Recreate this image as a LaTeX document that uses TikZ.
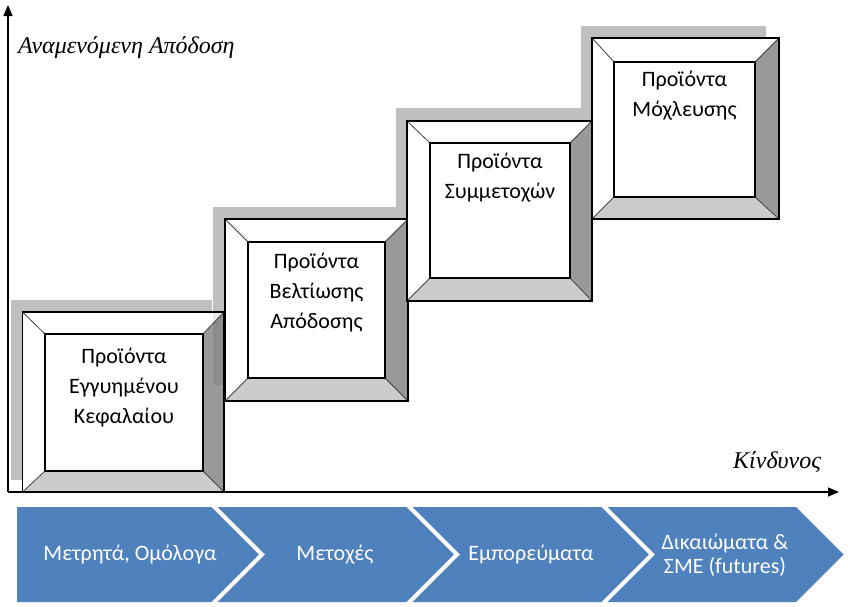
\documentclass[tikz,border=0pt]{standalone}
\usepackage{fontspec}
\setmainfont{Carlito}
\newfontfamily\tnr{Liberation Serif}
\usetikzlibrary{arrows.meta}
\definecolor{chblue}{HTML}{4F81BD}
\definecolor{shad}{HTML}{BFBFBF}
\definecolor{bvr}{HTML}{999999}
\definecolor{bvb}{HTML}{CCCCCC}
\definecolor{diagc}{HTML}{404040}
\newcommand{\bevbox}[9]{%
  \coordinate (#1A) at (#2,#3);
  \coordinate (#1B) at (#4,#3);
  \coordinate (#1C) at (#4,#5);
  \coordinate (#1D) at (#2,#5);
  \coordinate (#1a) at (#6,#7);
  \coordinate (#1b) at (#8,#7);
  \coordinate (#1c) at (#8,#9);
  \coordinate (#1d) at (#6,#9);
  \fill[white] (#1A) rectangle (#1C);
  \fill[bvr] (#1B) -- (#1C) -- (#1c) -- (#1b) -- cycle;
  \fill[bvb] (#1D) -- (#1C) -- (#1c) -- (#1d) -- cycle;
  \draw[diagline] (#1A) -- (#1a) (#1B) -- (#1b) (#1C) -- (#1c) (#1D) -- (#1d);
  \draw[boxline] (#1A) rectangle (#1C);
  \draw[boxline] (#1a) rectangle (#1c);
}
\begin{document}
\begin{tikzpicture}[x=1pt,y=-1pt,
  diagline/.style={draw=diagc,line width=0.8pt},
  boxline/.style={draw=black,line width=1.3pt},
  boxtext/.style={align=center,anchor=base,font=\fontsize{22}{30}\selectfont,inner sep=0pt},
  chtext/.style={align=center,text=white,font=\fontsize{22}{24}\selectfont,inner sep=0pt},
  axislabel/.style={font=\tnr\itshape\fontsize{24}{28}\selectfont,inner sep=0pt,anchor=base west},
  axisline/.style={line width=1.5pt,-{Triangle[length=11pt,width=9pt]}},
  sep/.style={draw=white,line width=4pt}]
\useasboundingbox (0,0) rectangle (848,606);
% shadows
\fill[shad] (11,300) rectangle (212,480);
\fill[shad] (213,207) rectangle (396,389);
\fill[shad] (396,108) rectangle (581,289);
\fill[shad] (581,26) rectangle (766,207);
% boxes
\bevbox{b1}{22.5}{312}{224}{492}{45}{334}{203}{471}
\fill[black,opacity=0.085] (213,313) rectangle (223.3,385);
\bevbox{b2}{225}{219}{408}{401}{248}{242}{385}{378}
\bevbox{b3}{407}{121}{592}{301}{430}{143}{570}{278}
\bevbox{b4}{592}{38}{779}{219}{614}{62}{755}{197}
% box texts (anchor = baseline of last line)
\node[boxtext] (t1) at (124,423) {Προϊόντα\\Εγγυημένου\\Κεφαλαίου};
\node[boxtext] (t2) at (316.5,328) {Προϊόντα\\Βελτίωσης\\Απόδοσης};
\node[boxtext] (t3) at (500,198) {Προϊόντα\\Συμμετοχών};
\node[boxtext] (t4) at (684.5,116) {Προϊόντα\\Μόχλευσης};
% axes
\coordinate (O) at (8,492);
\coordinate (Ytop) at (8,5);
\coordinate (Xend) at (839,492);
\draw[axisline] (O) -- (Ytop);
\draw[axisline] (O) -- (Xend);
\node[axislabel] (ylab) at (18,53) {Αναμενόμενη Απόδοση};
\node[axislabel] (xlab) at (733,468) {Κίνδυνος};
% chevrons
\fill[chblue] (17,507) -- (214.5,507) -- (262,554.5) -- (214.5,602) -- (17,602) -- cycle;
\fill[chblue] (214.5,507) -- (409.5,507) -- (457,554.5) -- (409.5,602) -- (214.5,602) -- (262,554.5) -- cycle;
\fill[chblue] (409.5,507) -- (604.5,507) -- (652,554.5) -- (604.5,602) -- (409.5,602) -- (457,554.5) -- cycle;
\fill[chblue] (604.5,507) -- (796,507) -- (843.5,554.5) -- (796,602) -- (604.5,602) -- (652,554.5) -- cycle;
\draw[sep] (211.5,504) -- (262,554.5) -- (211.5,605);
\draw[sep] (406.5,504) -- (457,554.5) -- (406.5,605);
\draw[sep] (601.5,504) -- (652,554.5) -- (601.5,605);
\node[chtext] (c1) at (130,555) {Μετρητά, Ομόλογα};
\node[chtext] (c2) at (335,555) {Μετοχές};
\node[chtext] (c3) at (531,555) {Εμπορεύματα};
\node[chtext] (c4) at (725,555) {Δικαιώματα \&\\ΣΜΕ (futures)};
\end{tikzpicture}
\end{document}
